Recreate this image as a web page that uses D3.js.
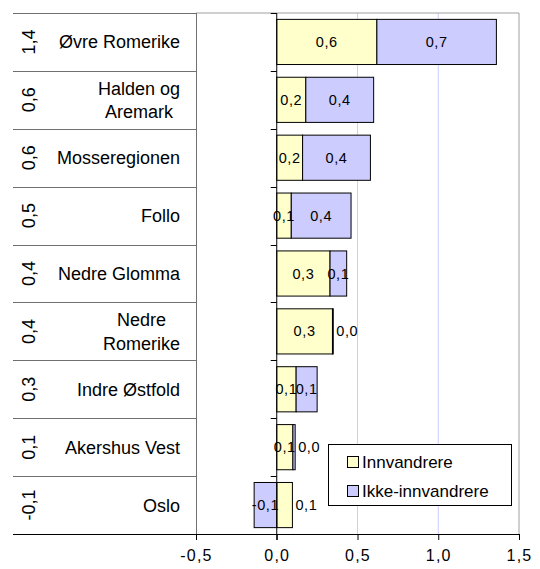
<!DOCTYPE html>
<html><head><meta charset="utf-8">
<script src="https://cdn.jsdelivr.net/npm/d3@7"></script>
<style>html,body{margin:0;padding:0;background:#fff;}svg{display:block;}</style>
</head><body>
<svg id="chart" width="540" height="569"></svg>
<script>
const categories = ["Øvre Romerike", "Halden og\nAremark", "Mosseregionen", "Follo", "Nedre Glomma", "Nedre\nRomerike", "Indre Østfold", "Akershus Vest", "Oslo"];
const innvandrere = [0.62, 0.18, 0.16, 0.09, 0.33, 0.345, 0.12, 0.10, 0.097];
const ikkeInnvandrere = [0.74, 0.42, 0.42, 0.37, 0.103, 0.005, 0.13, 0.014, -0.14];
const totalLabels = ["1,4", "0,6", "0,6", "0,5", "0,4", "0,4", "0,3", "0,1", "-0,1"];
const xTicks = [-0.5, 0, 0.5, 1.0, 1.5];
const gridValues = [0.5, 1.0];
const seriesNames = ["Innvandrere", "Ikke-innvandrere"];
const seriesColors = ["#ffffcc", "#ccccff"];

const svg = d3.select("#chart");
const font = "'Liberation Sans', Arial, sans-serif";
const plotLeft = 196, plotRight = 519, plotTop = 13, plotBottom = 534, tableLeft = 13;

const x = d3.scaleLinear().domain([-0.5, 1.5]).range([plotLeft, plotRight]);
const y = d3.scaleBand().domain(categories).range([plotTop, plotBottom]).paddingInner(0.22).paddingOuter(0.11);
const rows = d3.scaleBand().domain(categories).range([plotTop, plotBottom]).padding(0);
const fmt = v => d3.format(".1f")(v).replace(".", ",").replace("−", "-");

// gridlines
svg.append("g").selectAll("line").data(gridValues).join("line")
  .attr("x1", d => x(d)).attr("x2", d => x(d)).attr("y1", plotTop).attr("y2", plotBottom)
  .attr("stroke", "#ccccff").attr("stroke-width", 1);

// plot border (top, right)
svg.append("path").attr("d", `M${plotLeft},${plotTop}H${plotRight}V${plotBottom}`)
  .attr("fill", "none").attr("stroke", "#a0a0a0").attr("stroke-width", 1);

// table lines on left
svg.append("g").selectAll("line").data(categories).join("line")
  .attr("x1", tableLeft).attr("x2", plotLeft)
  .attr("y1", d => Math.round(rows(d)) + 0.5).attr("y2", d => Math.round(rows(d)) + 0.5)
  .attr("stroke", "#707070").attr("stroke-width", 1);
svg.append("line").attr("x1", plotLeft + 0.5).attr("x2", plotLeft + 0.5).attr("y1", plotTop).attr("y2", plotBottom)
  .attr("stroke", "#707070");

// total labels rotated
svg.append("g").selectAll("text").data(categories).join("text")
  .attr("transform", (d, i) => `translate(35,${rows(d) + rows.bandwidth() / 2}) rotate(-90)`)
  .attr("text-anchor", "middle").attr("font-family", font).attr("font-size", 18).attr("fill", "#000")
  .text((d, i) => totalLabels[i]);

// category labels
const catG = svg.append("g");
categories.forEach(c => {
  const lines = c.split("\n");
  const cy = rows(c) + rows.bandwidth() / 2;
  const t = catG.append("text").attr("font-family", font).attr("font-size", 18).attr("fill", "#000");
  if (lines.length === 1) {
    t.attr("x", 180).attr("y", cy + 6.5).attr("text-anchor", "end").text(c);
  } else {
    const tmp = lines.map(l => { const s = t.append("tspan").text(l); const w = s.node().getComputedTextLength(); s.remove(); return w; });
    const cx = 180 - d3.max(tmp) / 2;
    lines.forEach((l, k) => {
      t.append("tspan").attr("x", cx).attr("y", cy + 6.5 + (k - (lines.length - 1) / 2) * 23.5)
        .attr("text-anchor", "middle").text(l);
    });
  }
});

// bars
const segs = [];
categories.forEach((c, i) => {
  const vals = [innvandrere[i], ikkeInnvandrere[i]];
  let pos = 0, neg = 0;
  vals.forEach((v, s) => {
    let x0, x1;
    if (v >= 0) { x0 = pos; x1 = pos + v; pos = x1; } else { x1 = neg; x0 = neg + v; neg = x0; }
    segs.push({ c, s, v, x0, x1 });
  });
  const p = segs.filter(d => d.c === c && d.v >= 0);
  if (p.length) p[p.length - 1].outer = true;
});
const barG = svg.append("g");
barG.selectAll("rect").data(segs).join("rect")
  .attr("x", d => x(d.x0)).attr("width", d => Math.max(0.8, x(d.x1) - x(d.x0)))
  .attr("y", d => y(d.c)).attr("height", y.bandwidth())
  .attr("fill", d => seriesColors[d.s]).attr("stroke", "#000").attr("stroke-width", 1);

// y axis at zero
svg.append("line").attr("x1", x(0)).attr("x2", x(0)).attr("y1", plotTop).attr("y2", plotBottom + 6)
  .attr("stroke", "#000").attr("stroke-width", 1);
svg.append("g").selectAll("line").data(categories).join("line")
  .attr("x1", x(0) - 6).attr("x2", x(0))
  .attr("y1", d => Math.round(rows(d)) + 0.5).attr("y2", d => Math.round(rows(d)) + 0.5)
  .attr("stroke", "#000");

// segment labels
barG.selectAll("text").data(segs).join("text")
  .attr("font-family", font).attr("font-size", 14.5).attr("letter-spacing", 0.6).attr("fill", "#000")
  .each(function (d) {
    const w = x(d.x1) - x(d.x0);
    const el = d3.select(this);
    if (d.outer && w < 16) {
      el.attr("x", x(d.x1) + 3).attr("text-anchor", "start");
    } else {
      el.attr("x", (x(d.x0) + x(d.x1)) / 2).attr("text-anchor", "middle");
    }
  })
  .attr("y", d => y(d.c) + y.bandwidth() / 2 + 5)
  .text(d => fmt(d.v));

// x axis
const xAxis = d3.axisBottom(x).tickValues(xTicks).tickSize(6).tickPadding(10).tickFormat(d => fmt(d));
const ax = svg.append("g").attr("transform", `translate(0,${plotBottom})`).call(xAxis);
ax.select(".domain").remove();
ax.selectAll(".tick line").attr("stroke", "#000");
ax.selectAll(".tick text").attr("font-family", font).attr("font-size", 16).attr("letter-spacing", 1.2).attr("fill", "#000");
svg.append("line").attr("x1", tableLeft).attr("x2", plotRight).attr("y1", plotBottom + 0.5).attr("y2", plotBottom + 0.5)
  .attr("stroke", "#000");

// legend
const lg = svg.append("g");
lg.append("rect").attr("x", 328.5).attr("y", 444.5).attr("width", 183).attr("height", 61)
  .attr("fill", "#fff").attr("stroke", "#000");
seriesNames.forEach((n, k) => {
  const cy = 462 + k * 29;
  lg.append("rect").attr("x", 347.5).attr("y", cy - 5.5).attr("width", 11).attr("height", 11)
    .attr("fill", seriesColors[k]).attr("stroke", "#000");
  lg.append("text").attr("x", 362).attr("y", cy + 6).attr("font-family", font).attr("font-size", 17)
    .attr("fill", "#000").text(n);
});
</script>
</body></html>
